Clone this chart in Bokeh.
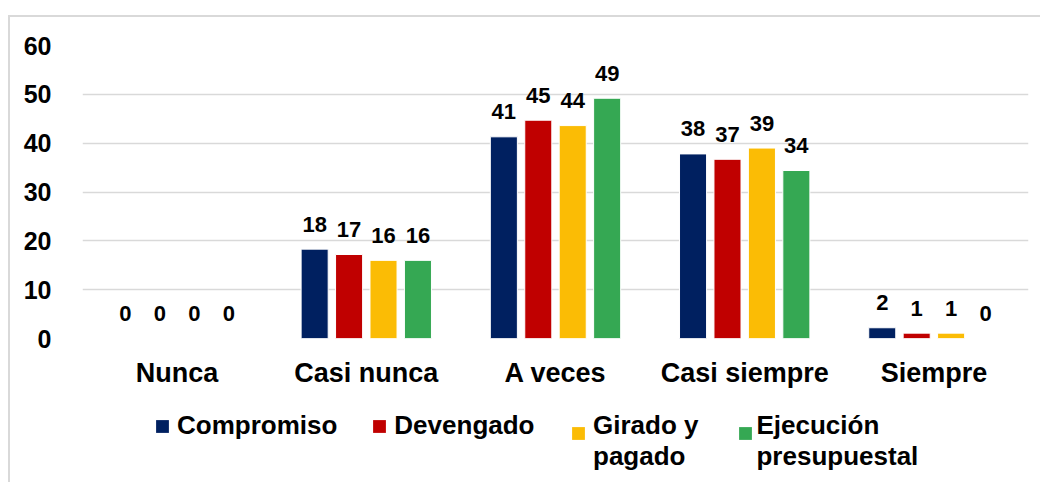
from bokeh.plotting import figure
from bokeh.models import ColumnDataSource, FactorRange, Range1d, SingleIntervalTicker, Legend, LegendItem
from bokeh.layouts import column
from bokeh.transform import dodge
from bokeh.core.properties import value
from bokeh.embed import file_html
from bokeh.resources import INLINE

categories = ["Nunca", "Casi nunca", "A veces", "Casi siempre", "Siempre"]
series_names = ["Compromiso", "Devengado", "Girado y\npagado", "Ejecución\npresupuestal"]
compromiso = [0, 18.3, 41.3, 37.8, 2.2]
devengado = [0, 17.2, 44.7, 36.7, 1.1]
girado = [0, 16.0, 43.6, 39.0, 1.1]
ejecucion = [0, 16.0, 49.2, 34.4, 0]
colors = ["#002060", "#C00000", "#FBBC05", "#35A853"]
y_ticks_max = 60

FONT = "Liberation Sans"
series_values = [compromiso, devengado, girado, ejecucion]
offsets = [-0.273, -0.091, 0.091, 0.273]
bar_w = 0.143

p = figure(x_range=FactorRange(*categories, range_padding=0), y_range=Range1d(0, y_ticks_max),
           frame_width=946, frame_height=293, min_border_left=72, min_border_right=12,
           min_border_top=28, min_border_bottom=60,
           output_backend="svg", toolbar_location=None)
p.outline_line_color = None
p.background_fill_color = "white"
p.border_fill_color = "white"

for name, vals, col, off in zip(series_names, series_values, colors, offsets):
    src = ColumnDataSource(dict(cat=categories, v=vals, lab=[str(int(round(x))) for x in vals]))
    p.vbar(x=dodge("cat", off, range=p.x_range), top="v", width=bar_w, source=src,
           fill_color=col, line_color="white", line_width=1)
    p.text(x=dodge("cat", off, range=p.x_range), y="v", text="lab", source=src,
           text_font=value(FONT), text_font_style="bold", text_font_size="22px",
           text_align="center", text_baseline="alphabetic", y_offset=-25, text_color="black")

p.yaxis.ticker = SingleIntervalTicker(interval=10)
p.ygrid.grid_line_color = "#d9d9d9"
p.ygrid.grid_line_width = 1.5
p.xgrid.grid_line_color = None
for ax in (p.xaxis, p.yaxis):
    ax.axis_line_color = None
    ax.major_tick_line_color = None
    ax.minor_tick_line_color = None
    ax.major_label_text_font = FONT
    ax.major_label_text_font_style = "bold"
    ax.major_label_text_color = "black"
p.yaxis.major_label_text_font_size = "25px"
p.yaxis.major_label_standoff = 25
p.xaxis.major_label_text_font_size = "27px"
p.xaxis.major_label_standoff = 13

# legend strip below the chart (proxy swatches drawn off-range)
lp = figure(width=1030, height=84, x_range=Range1d(0, 1), y_range=Range1d(0, 1),
            x_axis_location=None, y_axis_location=None, min_border=0,
            output_backend="svg", toolbar_location=None)
lp.outline_line_color = None
lp.grid.grid_line_color = None
lp.background_fill_color = "white"
lp.border_fill_color = "white"
swatches = [lp.vbar(x=[-5], top=[-5], bottom=[-6], width=0.1, fill_color=col, line_color=None)
            for col in colors]
blank = lp.vbar(x=[-5], top=[-5], bottom=[-6], width=0.1, fill_alpha=0, line_color=None)

common = dict(orientation="horizontal", glyph_width=16, glyph_height=16, label_standoff=7,
              padding=0, margin=0, border_line_color=None, background_fill_alpha=0,
              label_text_font=FONT, label_text_font_style="bold", label_text_font_size="26px",
              label_text_color="black", label_text_line_height=1.2)
# single-line items
legend1 = Legend(items=[LegendItem(label=series_names[0], renderers=[swatches[0]]),
                        LegendItem(label=series_names[1], renderers=[swatches[1]])],
                 location=(72, 41), spacing=34, **common)
# two-line items (text), swatches aligned with first line separately
legend2 = Legend(items=[LegendItem(label=series_names[2], renderers=[blank]),
                        LegendItem(label=series_names[3], renderers=[blank])],
                 location=(488, 10), spacing=35, **common)
legend3 = Legend(items=[LegendItem(label=" ", renderers=[swatches[2]])],
                 location=(488, 41), spacing=0, **common)
legend4 = Legend(items=[LegendItem(label=" ", renderers=[swatches[3]])],
                 location=(655, 41), spacing=0, **common)
for lg in (legend1, legend2, legend3, legend4):
    lp.add_layout(lg, "center")

layout = column(p, lp, spacing=0,
                styles={"border-top": "2px solid #d9d9d9", "border-left": "2px solid #d9d9d9",
                        "margin-top": "15px", "margin-left": "8px"})

open("out.html", "w").write(file_html(layout, INLINE))
